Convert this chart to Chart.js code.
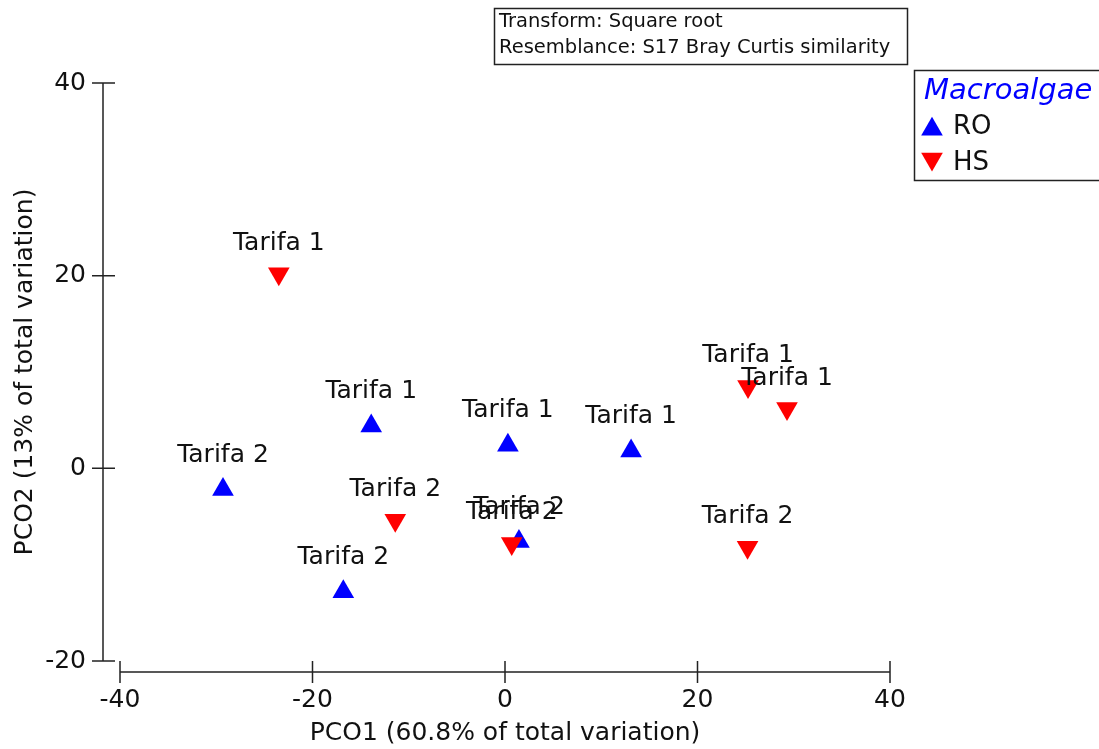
<!DOCTYPE html>
<html>
<head>
<meta charset="utf-8">
<script src="https://cdn.jsdelivr.net/npm/chart.js@4/dist/chart.umd.min.js"></script>
<style>
  html, body { margin: 0; padding: 0; background: #fff; }
  #wrap { width: 1099px; height: 749px; position: relative; }
</style>
</head>
<body>
<div id="wrap"><canvas id="pco"></canvas></div>
<script>
// PCO scores per group
const roX = [-13.9, 0.3, 13.1, -29.3, -16.8, 1.45];
const roY = [4.4, 2.4, 1.8, -2.2, -12.8, -7.6];
const roSites = ["Tarifa 1", "Tarifa 1", "Tarifa 1", "Tarifa 2", "Tarifa 2", "Tarifa 2"];

const hsX = [-23.5, 25.25, 29.3, -11.4, 0.7, 25.2];
const hsY = [20.2, 8.5, 6.2, -5.4, -7.8, -8.2];
const hsSites = ["Tarifa 1", "Tarifa 1", "Tarifa 1", "Tarifa 2", "Tarifa 2", "Tarifa 2"];

const groupNames = ["RO", "HS"];
const groupColors = ["#0000ff", "#ff0000"];
const xTicks = [-40, -20, 0, 20, 40];
const yTicks = [-20, 0, 20, 40];
const infoLines = ["Transform: Square root", "Resemblance: S17 Bray Curtis similarity"];
const legendTitle = "Macroalgae";

const FONT = "'DejaVu Sans', sans-serif";
const toPoints = (xs, ys) => xs.map((x, i) => ({ x: x, y: ys[i] }));

// draws the axis lines with ticks crossing them, like the original
const axesPlugin = {
  id: "axes",
  beforeDatasetsDraw(chart) {
    const ctx = chart.ctx;
    const xs = chart.scales.x;
    const ys = chart.scales.y;
    const ax = xs.left - 17;
    const ay = ys.bottom + 11;
    ctx.save();
    ctx.strokeStyle = "#222";
    ctx.lineWidth = 1.5;
    ctx.beginPath();
    ctx.moveTo(ax, ys.getPixelForValue(yTicks[0]));
    ctx.lineTo(ax, ys.getPixelForValue(yTicks[yTicks.length - 1]));
    yTicks.forEach((v) => {
      const py = ys.getPixelForValue(v);
      ctx.moveTo(ax - 11, py);
      ctx.lineTo(ax + 12, py);
    });
    ctx.moveTo(xs.getPixelForValue(xTicks[0]), ay);
    ctx.lineTo(xs.getPixelForValue(xTicks[xTicks.length - 1]), ay);
    xTicks.forEach((v) => {
      const px = xs.getPixelForValue(v);
      ctx.moveTo(px, ay - 11);
      ctx.lineTo(px, ay + 11);
    });
    ctx.stroke();
    ctx.restore();
  },
};

// site names above each point
const siteLabels = {
  id: "siteLabels",
  afterDatasetsDraw(chart) {
    const ctx = chart.ctx;
    ctx.save();
    ctx.font = "25px " + FONT;
    ctx.fillStyle = "#111";
    ctx.textAlign = "center";
    ctx.textBaseline = "alphabetic";
    chart.data.datasets.forEach((ds, di) => {
      const meta = chart.getDatasetMeta(di);
      meta.data.forEach((pt, i) => {
        ctx.fillText(ds.sites[i], pt.x, pt.y - ds.labelLift);
      });
    });
    ctx.restore();
  },
};

// info box and legend box
const boxes = {
  id: "boxes",
  afterDraw(chart) {
    const ctx = chart.ctx;
    ctx.save();
    ctx.strokeStyle = "#222";
    ctx.lineWidth = 1.5;
    ctx.strokeRect(494.5, 8.5, 413, 56);
    ctx.font = "19.5px " + FONT;
    ctx.fillStyle = "#111";
    ctx.textBaseline = "middle";
    ctx.textAlign = "left";
    infoLines.forEach((t, i) => ctx.fillText(t, 499, 22 + i * 26));

    ctx.strokeRect(914.5, 70.5, 200, 110);
    ctx.font = "italic 29px " + FONT;
    ctx.fillStyle = "#0000ff";
    ctx.fillText(legendTitle, 924, 91);
    ctx.font = "26px " + FONT;
    chart.data.datasets.forEach((ds, i) => {
      const cy = 126 + i * 36;
      const r = 12.5;
      const dir = ds.pointRotation === 180 ? -1 : 1;
      const cyc = cy + dir * r / 4;
      ctx.fillStyle = ds.backgroundColor;
      ctx.beginPath();
      ctx.moveTo(932, cyc - dir * r);
      ctx.lineTo(932 + r * 0.866, cyc + dir * r / 2);
      ctx.lineTo(932 - r * 0.866, cyc + dir * r / 2);
      ctx.closePath();
      ctx.fill();
      ctx.fillStyle = "#111";
      ctx.fillText(ds.label, 953, cy + 1);
    });
    ctx.restore();
  },
};

new Chart(document.getElementById("pco"), {
  type: "scatter",
  data: {
    datasets: [
      {
        label: groupNames[0],
        data: toPoints(roX, roY),
        sites: roSites,
        labelLift: 28,
        order: 1,
        pointStyle: "triangle",
        pointRotation: 0,
        pointRadius: 12.5,
        pointHoverRadius: 12.5,
        backgroundColor: groupColors[0],
        borderColor: groupColors[0],
        borderWidth: 0,
      },
      {
        label: groupNames[1],
        data: toPoints(hsX, hsY),
        sites: hsSites,
        labelLift: 24,
        order: 0,
        pointStyle: "triangle",
        pointRotation: 180,
        pointRadius: 12.5,
        pointHoverRadius: 12.5,
        backgroundColor: groupColors[1],
        borderColor: groupColors[1],
        borderWidth: 0,
      },
    ],
  },
  options: {
    responsive: true,
    maintainAspectRatio: false,
    animation: false,
    layout: { padding: { top: 83, right: 209, left: 0, bottom: 0 } },
    plugins: {
      legend: { display: false },
      tooltip: { enabled: false },
    },
    scales: {
      x: {
        type: "linear",
        min: -40,
        max: 40,
        grid: { display: false },
        border: { display: false },
        afterBuildTicks: (s) => { s.ticks = xTicks.map((v) => ({ value: v })); },
        afterFit: (s) => { s.height = 88; },
        ticks: { color: "#111", padding: 16, font: { family: FONT, size: 25 } },
        title: {
          display: true,
          text: "PCO1 (60.8% of total variation)",
          color: "#111",
          font: { family: FONT, size: 25 },
          padding: { top: 0, bottom: 1 },
        },
      },
      y: {
        type: "linear",
        min: -20,
        max: 40,
        grid: { display: false },
        border: { display: false },
        afterBuildTicks: (s) => { s.ticks = yTicks.map((v) => ({ value: v })); },
        afterFit: (s) => { s.width = 120; },
        ticks: { color: "#111", padding: 26, font: { family: FONT, size: 25 } },
        title: {
          display: true,
          text: "PCO2 (13% of total variation)",
          color: "#111",
          font: { family: FONT, size: 25 },
          padding: { top: 10, bottom: 0 },
        },
      },
    },
  },
  plugins: [axesPlugin, siteLabels, boxes],
});
</script>
</body>
</html>
